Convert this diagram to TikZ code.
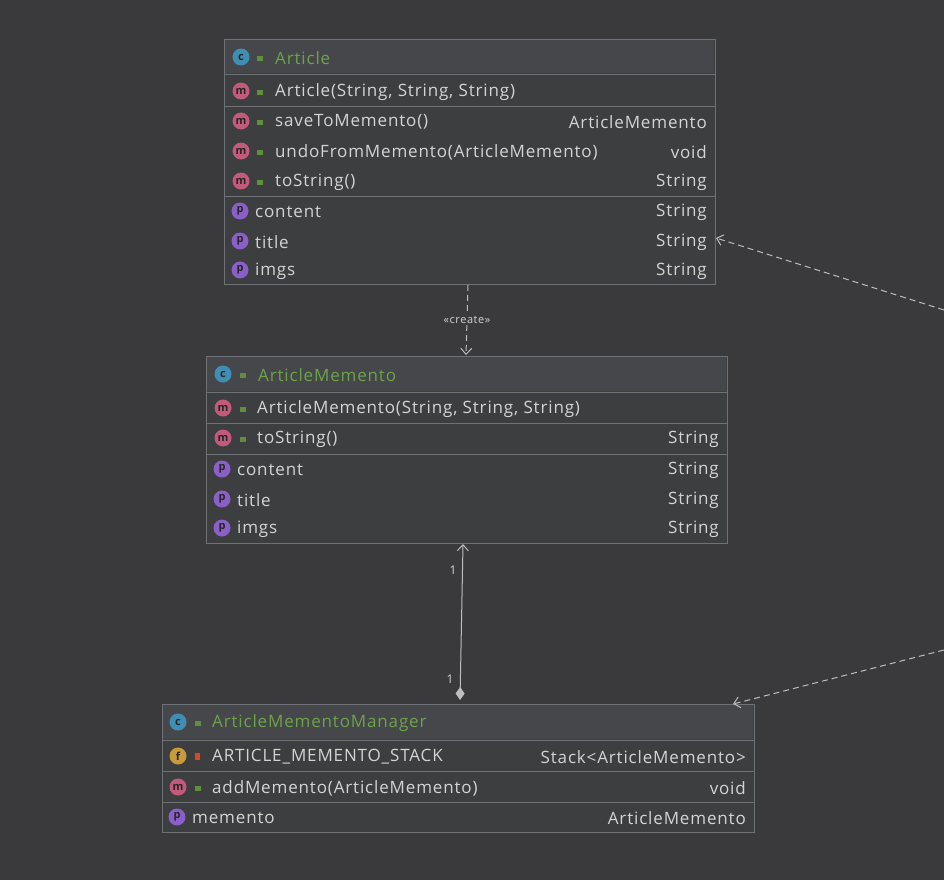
\documentclass[tikz,border=0pt]{standalone}
\usepackage{fontspec}
\setmainfont{Open Sans}[LetterSpace=5]
\usetikzlibrary{arrows.meta}
\definecolor{bg}{HTML}{3A3A3C}
\definecolor{boxbg}{HTML}{3C3E40}
\definecolor{hdr}{HTML}{45474A}
\definecolor{brd}{HTML}{6E7175}
\definecolor{txt}{HTML}{D4D4D4}
\definecolor{ttl}{HTML}{6DA34A}
\definecolor{icC}{HTML}{3F8FB5}
\definecolor{icM}{HTML}{C25A7C}
\definecolor{icP}{HTML}{8A5FC8}
\definecolor{icF}{HTML}{C99A3A}
\definecolor{lk}{HTML}{5E8F3E}
\definecolor{ln}{HTML}{BEBEBE}
\newcommand\IC[4]{\node[icon,fill=#3] at (#1,#2) {#4};}
\newcommand\LK[2]{\fill[lk] (#1-3,#2-1) rectangle (#1+3,#2+4);}
\newcommand\LT[3]{\node[lt] at (#1,#2+1) {#3};}
\newcommand\RT[3]{\node[rt] at (#1,#2+1) {#3};}
\newcommand\SEP[3]{\draw[brd] (#1,#3) -- (#2,#3);}
\begin{document}
\begin{tikzpicture}[x=1pt,y=-1pt,
  box/.style={draw=brd,fill=boxbg,line width=1.2pt,anchor=north west,inner sep=0},
  icon/.style={circle,minimum size=17pt,inner sep=0,text=black!85,font=\fontsize{11}{11}\selectfont\bfseries},
  lt/.style={anchor=west,text=txt,font=\fontsize{17}{18}\selectfont,inner sep=0},
  rt/.style={anchor=east,text=txt,font=\fontsize{17}{18}\selectfont,inner sep=0},
  tt/.style={anchor=west,text=ttl,font=\fontsize{17}{18}\selectfont,inner sep=0},
  con/.style={ln,line width=1pt},
  dsh/.style={dash pattern=on 6pt off 4pt},
  oa/.style={-{Straight Barb[length=6pt,width=11pt]}}]
\fill[bg] (0,0) rectangle (944,880);
\useasboundingbox (0,0) rectangle (944,880);
% Article
\node[box,minimum width=491pt,minimum height=245pt] (art) at (224,39) {};
\fill[hdr] (224.6,39.6) rectangle (714.4,73);
\SEP{224}{715}{74}\SEP{224}{715}{106}\SEP{224}{715}{196}
\IC{241}{57}{icC}{c}\LK{260}{57}\node[tt] at (275,58) {Article};
\IC{241}{91}{icM}{m}\LK{260}{91}\LT{275}{91}{Article(String, String, String)}
\IC{241}{121}{icM}{m}\LK{260}{121}\LT{275}{121}{saveToMemento()}\RT{707}{121}{ArticleMemento}
\IC{241}{151}{icM}{m}\LK{260}{151}\LT{275}{151}{undoFromMemento(ArticleMemento)}\RT{707}{151}{void}
\IC{241}{181}{icM}{m}\LK{260}{181}\LT{275}{181}{toString()}\RT{707}{181}{String}
\IC{240}{211}{icP}{p}\LT{255}{211}{content}\RT{707}{211}{String}
\IC{240}{241}{icP}{p}\LT{255}{241}{title}\RT{707}{241}{String}
\IC{240}{270}{icP}{p}\LT{255}{270}{imgs}\RT{707}{270}{String}
% ArticleMemento
\node[box,minimum width=521pt,minimum height=187pt] (mem) at (206,356) {};
\fill[hdr] (206.6,356.6) rectangle (726.4,391);
\SEP{206}{727}{392}\SEP{206}{727}{423}\SEP{206}{727}{454}
\IC{223}{374}{icC}{c}\LK{243}{374}\node[tt] at (258,375) {ArticleMemento};
\IC{223}{408}{icM}{m}\LK{243}{408}\LT{257}{408}{ArticleMemento(String, String, String)}
\IC{223}{438}{icM}{m}\LK{243}{438}\LT{257}{438}{toString()}\RT{719}{438}{String}
\IC{222}{469}{icP}{p}\LT{237}{469}{content}\RT{719}{469}{String}
\IC{222}{499}{icP}{p}\LT{237}{499}{title}\RT{719}{499}{String}
\IC{222}{528}{icP}{p}\LT{237}{528}{imgs}\RT{719}{528}{String}
% Manager
\node[box,minimum width=592pt,minimum height=128pt] (mgr) at (162,704) {};
\fill[hdr] (162.6,704.6) rectangle (753.4,739);
\SEP{162}{754}{740}\SEP{162}{754}{771}\SEP{162}{754}{802}
\IC{178}{722}{icC}{c}\LK{198}{722}\node[tt] at (212,723) {ArticleMementoManager};
\IC{178}{756}{icF}{f}\fill[red!45!brown] (195,753) rectangle (200,760);\LT{212}{756}{ARTICLE\_MEMENTO\_STACK}\RT{746}{756}{Stack<ArticleMemento>}
\IC{178}{787}{icM}{m}\LK{198}{787}\LT{212}{787}{addMemento(ArticleMemento)}\RT{746}{787}{void}
\IC{177}{817}{icP}{p}\LT{192}{817}{memento}\RT{746}{817}{ArticleMemento}
% connectors
\coordinate (c1) at (468,285);
\coordinate (c2) at (466,355);
\draw[con,dsh,oa] (c1) -- node[fill=bg,text=txt,inner sep=1pt,font=\fontsize{11}{11}\selectfont] {«create»} (c2);
\coordinate (d1) at (460,700);
\coordinate (d2) at (463,544);
\draw[con,{Diamond[fill=ln,length=13pt,width=9pt]}-{Straight Barb[length=6pt,width=11pt]}] (d1) -- (d2);
\node[text=txt,font=\fontsize{12}{12}\selectfont] (n1) at (453,570) {1};
\node[text=txt,font=\fontsize{12}{12}\selectfont] (n2) at (450,679) {1};
\coordinate (e1) at (944,310);
\coordinate (e2) at (716,238);
\draw[con,dsh,oa] (e1) -- (e2);
\coordinate (f1) at (944,650);
\coordinate (f2) at (733,704);
\draw[con,dsh,oa] (f1) -- (f2);
\end{tikzpicture}
\end{document}
